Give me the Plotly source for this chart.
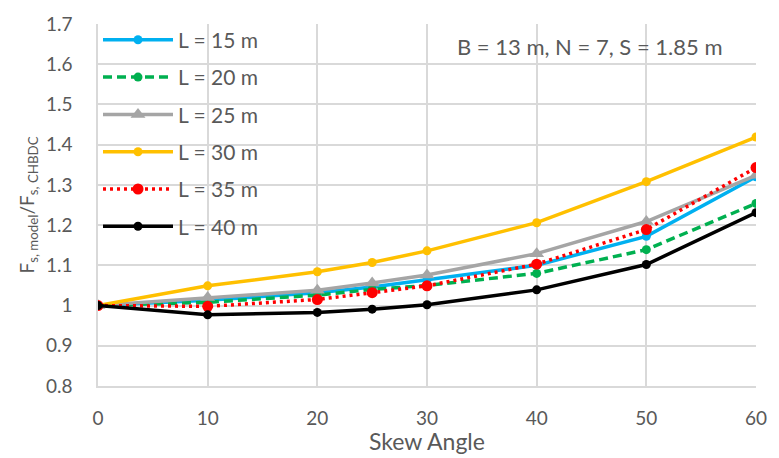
import plotly.graph_objects as go

skew = [0, 10, 20, 25, 30, 40, 50, 60]
series_names = ["L = 15 m", "L = 20 m", "L = 25 m", "L = 30 m", "L = 35 m", "L = 40 m"]
L15 = [1.0, 1.013, 1.032, 1.046, 1.064, 1.100, 1.172, 1.320]
L20 = [1.0, 1.008, 1.026, 1.040, 1.050, 1.080, 1.139, 1.254]
L25 = [1.0, 1.020, 1.038, 1.056, 1.076, 1.129, 1.209, 1.324]
L30 = [1.0, 1.049, 1.084, 1.107, 1.136, 1.206, 1.308, 1.419]
L35 = [1.0, 0.998, 1.015, 1.032, 1.049, 1.103, 1.189, 1.343]
L40 = [1.0, 0.977, 0.983, 0.991, 1.002, 1.039, 1.102, 1.231]
y_ticks = [0.8, 0.9, 1.0, 1.1, 1.2, 1.3, 1.4, 1.5, 1.6, 1.7]
x_ticks = [0, 10, 20, 30, 40, 50, 60]
annotation_text = "B = 13 m, N = 7, S = 1.85 m"
x_title = "Skew Angle"
y_title = "F<sub>s, model</sub>/F<sub>s, CHBDC</sub>"

styles = [
    dict(color="#00B0F0", dash="solid", symbol="circle", size=9),
    dict(color="#00B050", dash="9px,5px", symbol="circle", size=9),
    dict(color="#A5A5A5", dash="solid", symbol="triangle-up", size=13),
    dict(color="#FFC000", dash="solid", symbol="circle", size=9),
    dict(color="#FF0000", dash="3px,4px", symbol="circle", size=11),
    dict(color="#000000", dash="solid", symbol="circle", size=9),
]
data = [L15, L20, L25, L30, L35, L40]

FONT = "Lato, 'Liberation Sans', sans-serif"
GREY = "#595959"
L, R, T, B = 98, 16, 17, 72
W, H = 779, 458
pw, ph = W - L - R, H - T - B

fig = go.Figure()
for i, (name, vals, st) in enumerate(zip(series_names, data, styles)):
    fig.add_trace(go.Scatter(
        x=skew, y=vals, name=name, mode="lines+markers",
        legendgroup=f"g{i}",
        line=dict(color=st["color"], width=3.5, dash=st["dash"]),
        marker=dict(color=st["color"], symbol=st["symbol"], size=st["size"],
                    line=dict(width=0)),
    ))

fig.add_annotation(text=annotation_text, x=(595 - L) / pw, y=(H - B - 40) / ph,
                   xref="paper", yref="paper", xanchor="center", yanchor="middle",
                   showarrow=False, font=dict(size=22, color=GREY, family=FONT))
fig.add_annotation(text=x_title, x=0.5, y=-(442 - (H - B)) / ph,
                   xref="paper", yref="paper", xanchor="center", yanchor="middle",
                   showarrow=False, font=dict(size=23, color=GREY, family=FONT))

fig.update_layout(
    width=W, height=H,
    margin=dict(l=L, r=R, t=T, b=B),
    paper_bgcolor="white", plot_bgcolor="white",
    font=dict(family=FONT, color=GREY, size=19),
    showlegend=True,
    legend=dict(x=0.0, y=1.012, xanchor="left", yanchor="top",
                bgcolor="rgba(0,0,0,0)", font=dict(size=21, color=GREY, family=FONT),
                traceorder="grouped", tracegroupgap=7, itemwidth=70,
                borderwidth=0),
    xaxis=dict(range=[0, 60], tickvals=x_ticks, showgrid=True, gridcolor="#D9D9D9",
               gridwidth=1.5, zeroline=False, showline=True, linecolor="#D9D9D9",
               linewidth=1.5, ticks="", tickfont=dict(size=19, color=GREY),
               ticklabelstandoff=14),
    yaxis=dict(range=[0.8, 1.7], tickvals=y_ticks, showgrid=True, gridcolor="#D9D9D9",
               gridwidth=1.5, zeroline=False, showline=True, linecolor="#D9D9D9",
               linewidth=1.5, ticks="", tickfont=dict(size=19, color=GREY),
               ticklabelstandoff=20,
               title=dict(text=y_title, font=dict(size=19, color=GREY), standoff=6)),
)
fig.write_html("out.html", config={"displayModeBar": False},
               post_script="document.body.style.margin='0';document.body.style.overflow='hidden';")
